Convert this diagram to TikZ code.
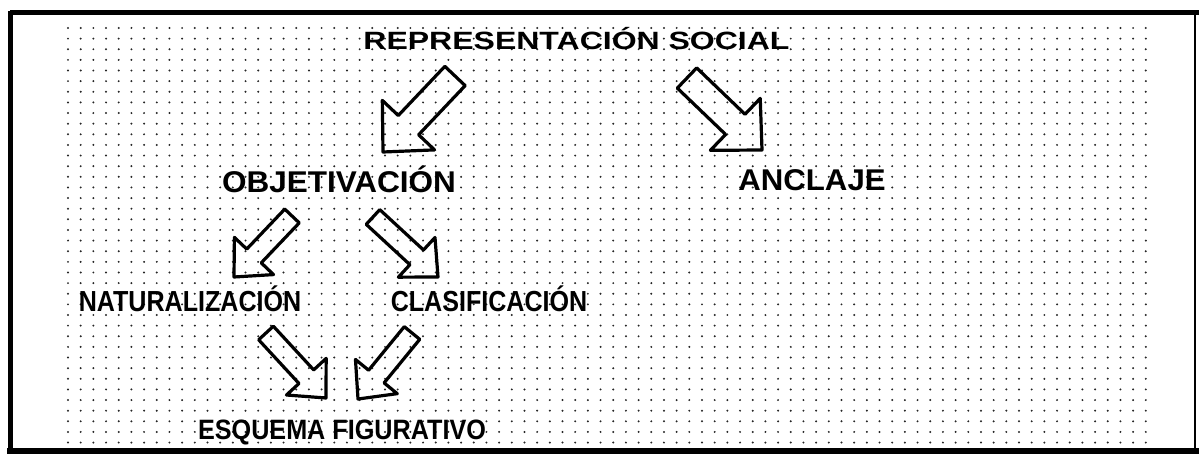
\documentclass[tikz,border=0pt]{standalone}
\usepackage{fontspec}
\setmainfont{Liberation Sans}
\usetikzlibrary{calc, positioning}

% hollow block arrow: tail, tip, half shaft, head length, half head
\newcommand{\blockarrow}[5]{%
  \coordinate (hb) at ($(#2)!#4!(#1)$);
  \draw[blockarr] ($(#1)!#3!90:(#2)$) -- ($(hb)!#3!90:(#2)$) -- ($(hb)!#5!90:(#2)$)
    -- (#2) -- ($(hb)!#5!-90:(#2)$) -- ($(hb)!#3!-90:(#2)$) -- ($(#1)!#3!-90:(#2)$) -- cycle;
}

\begin{document}
\begin{tikzpicture}[
    x=1pt, y=-1pt,
    big/.style={font=\fontsize{25}{30}\selectfont\bfseries, anchor=base, inner sep=0pt},
    mid/.style={font=\fontsize{30}{36}\selectfont\bfseries, anchor=base, inner sep=0pt},
    small/.style={font=\fontsize{29}{34}\selectfont\bfseries, anchor=base, inner sep=0pt},
    blockarr/.style={draw, line width=3.2pt, line join=round},
    frame/.style={line width=5pt}
]
    \useasboundingbox (0,0) rectangle (1199,454);

    % === dotted background ===
    \foreach \i in {0,...,85}
        \foreach \j in {0,...,39}
            \fill[black!85] (68+12.68*\i, 28+10.63*\j) circle (1.1);

    % === frame ===
    \draw[frame] (10,13) -- (1199,13);
    \draw[frame] (10,11) -- (10,452);
    \draw[frame, line width=6pt] (7,450.5) -- (1199,450.5);
    \draw[line width=1.5pt] (1195,13) -- (1195,450);

    % === terms ===
    \node[big] (rep) at (576.5,50) {\scalebox{1.28}[1]{REPRESENTACIÓN SOCIAL}};
    \node[mid] (obj) at (339,193) {\scalebox{1.05}[1]{OBJETIVACIÓN}};
    \node[mid] (ancl) at (812,191) {\scalebox{1.04}[1]{ANCLAJE}};
    \node[small] (nat) at (190,312) {\scalebox{0.865}[1]{NATURALIZACIÓN}};
    \node[small] (clas) at (489,311) {\scalebox{0.865}[1]{CLASIFICACIÓN}};
    \node[small, font=\fontsize{28}{34}\selectfont\bfseries] (esq) at (342,439) {\scalebox{0.9}[1]{ESQUEMA FIGURATIVO}};

    % === arrows ===
    \coordinate (a1) at (455,76);  \coordinate (b1) at (383,152);
    \coordinate (a2) at (687,78);  \coordinate (b2) at (762,150);
    \coordinate (a3) at (292,216); \coordinate (b3) at (234,277);
    \coordinate (a4) at (373,217); \coordinate (b4) at (438,277);
    \coordinate (a5) at (266,333); \coordinate (b5) at (326,398);
    \coordinate (a6) at (412,333); \coordinate (b6) at (358,399);

    \blockarrow{a1}{b1}{14pt}{37pt}{36pt}
    \blockarrow{a2}{b2}{14pt}{37pt}{36pt}
    \blockarrow{a3}{b3}{10pt}{29pt}{27pt}
    \blockarrow{a4}{b4}{10pt}{29pt}{27pt}
    \blockarrow{a5}{b5}{10pt}{29pt}{27pt}
    \blockarrow{a6}{b6}{10pt}{29pt}{27pt}
\end{tikzpicture}
\end{document}
